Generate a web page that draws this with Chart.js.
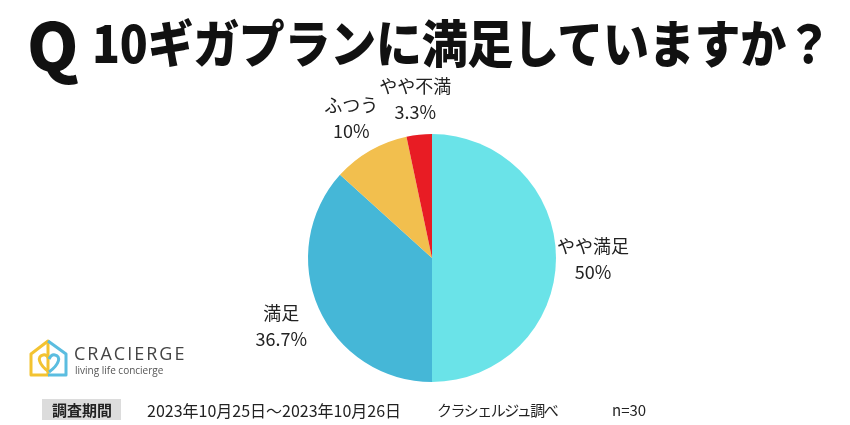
<!DOCTYPE html>
<html>
<head>
<meta charset="utf-8">
<script src="https://cdn.jsdelivr.net/npm/chart.js@4.4.0/dist/chart.umd.min.js"></script>
<style>
  body { margin: 0; background: #fff; font-family: "Noto Sans CJK JP", "Noto Sans", sans-serif; }
  #wrap { position: relative; width: 850px; height: 425px; overflow: hidden; }
  #myChart { position: absolute; left: 0; top: 0; }
  .title { position: absolute; white-space: nowrap; font-weight: 900; color: #111; transform-origin: 0 50%; }
  .q { left: 27px; top: -3px; font-size: 63px; transform: scale(1.04, 1.05); }
  .t { left: 92px; top: 8px; font-size: 46px; transform: scale(1, 1.1); letter-spacing: -0.3px; }
  .foot { position: absolute; top: 398px; font-size: 15px; color: #222; white-space: nowrap; line-height: 24px; }
  .box { background: #dcdcdc; font-weight: 700; padding: 0 9px 0 10px; }
  .logo { position: absolute; left: 28px; top: 338px; }
  .logo .name { position: absolute; left: 46px; top: 3px; font-family: "Open Sans", sans-serif; font-size: 18px; letter-spacing: 2px; color: #444; }
  .logo .sub { position: absolute; left: 47px; top: 25px; font-family: "Open Sans", sans-serif; font-size: 10px; color: #555; white-space: nowrap; }
</style>
</head>
<body>
<div id="wrap">
  <canvas id="myChart" width="850" height="425"></canvas>
  <div class="title q">Q</div>
  <div class="title t">10ギガプランに満足していますか？</div>
  <div class="logo">
    <svg width="44" height="40" viewBox="0 0 44 40">
      <path d="M3 16 L20 3 L20 37 L3 37 Z" fill="none" stroke="#f3c331" stroke-width="3" stroke-linejoin="round"/>
      <path d="M20 3 L38 16 L38 37 L20 37" fill="none" stroke="#5bbde0" stroke-width="3" stroke-linejoin="round"/>
      <path d="M21 34 C10 26 9 18 15 17 C18 16 20 19 21 21" fill="none" stroke="#f3c331" stroke-width="3"/>
      <path d="M21 34 C32 26 33 18 27 17 C24 16 22 19 21 21" fill="none" stroke="#5bbde0" stroke-width="3"/>
    </svg>
    <div class="name">CRACIERGE</div>
    <div class="sub">living life concierge</div>
  </div>
  <div class="foot" style="left:42px"><span class="box">調査期間</span></div>
  <div class="foot" style="left:147px; font-size:16px">2023年10月25日～2023年10月26日</div>
  <div class="foot" style="left:437px; letter-spacing:-1.5px">クラシェルジュ調べ</div>
  <div class="foot" style="left:612px">n=30</div>
</div>
<script>
// answers, clockwise from 12 o'clock
const labels = ['やや満足', '満足', 'ふつう', 'やや不満'];
const shares = [50, 36.7, 10, 3.3];
const shareText = ['50%', '36.7%', '10%', '3.3%'];
const colors = ['#6ae3e8', '#45b7d7', '#f2bf4e', '#e81c24'];

// labels outside the pie, at the middle angle of each slice
const outsideLabels = {
    id: 'outsideLabels',
    afterDatasetsDraw(chart, args, opts) {
        const ctx = chart.ctx;
        const arcs = chart.getDatasetMeta(0).data;
        ctx.save();
        ctx.fillStyle = '#222';
        ctx.font = '18px "Noto Sans CJK JP"';
        ctx.textAlign = 'center';
        ctx.textBaseline = 'middle';
        arcs.forEach(function (arc, i) {
            const mid = (arc.startAngle + arc.endAngle) / 2;
            const r = arc.outerRadius + opts.offsets[i];
            const x = arc.x + Math.cos(mid) * r;
            const y = arc.y + Math.sin(mid) * r;
            ctx.fillText(labels[i], x, y - 12);
            ctx.fillText(shareText[i], x, y + 14);
        });
        ctx.restore();
    }
};

const myChart = new Chart(document.getElementById('myChart'), {
    type: 'pie',
    data: {
        labels: labels,
        datasets: [{
            data: shares,
            backgroundColor: colors,
            borderWidth: 0
        }]
    },
    options: {
        responsive: false,
        animation: false,
        layout: { padding: { top: 134, bottom: 43, left: 308, right: 294 } },
        plugins: {
            legend: { display: false },
            tooltip: { enabled: false },
            outsideLabels: { offsets: [37, 41, 38, 37] }
        }
    },
    plugins: [outsideLabels]
});
</script>
</body>
</html>
